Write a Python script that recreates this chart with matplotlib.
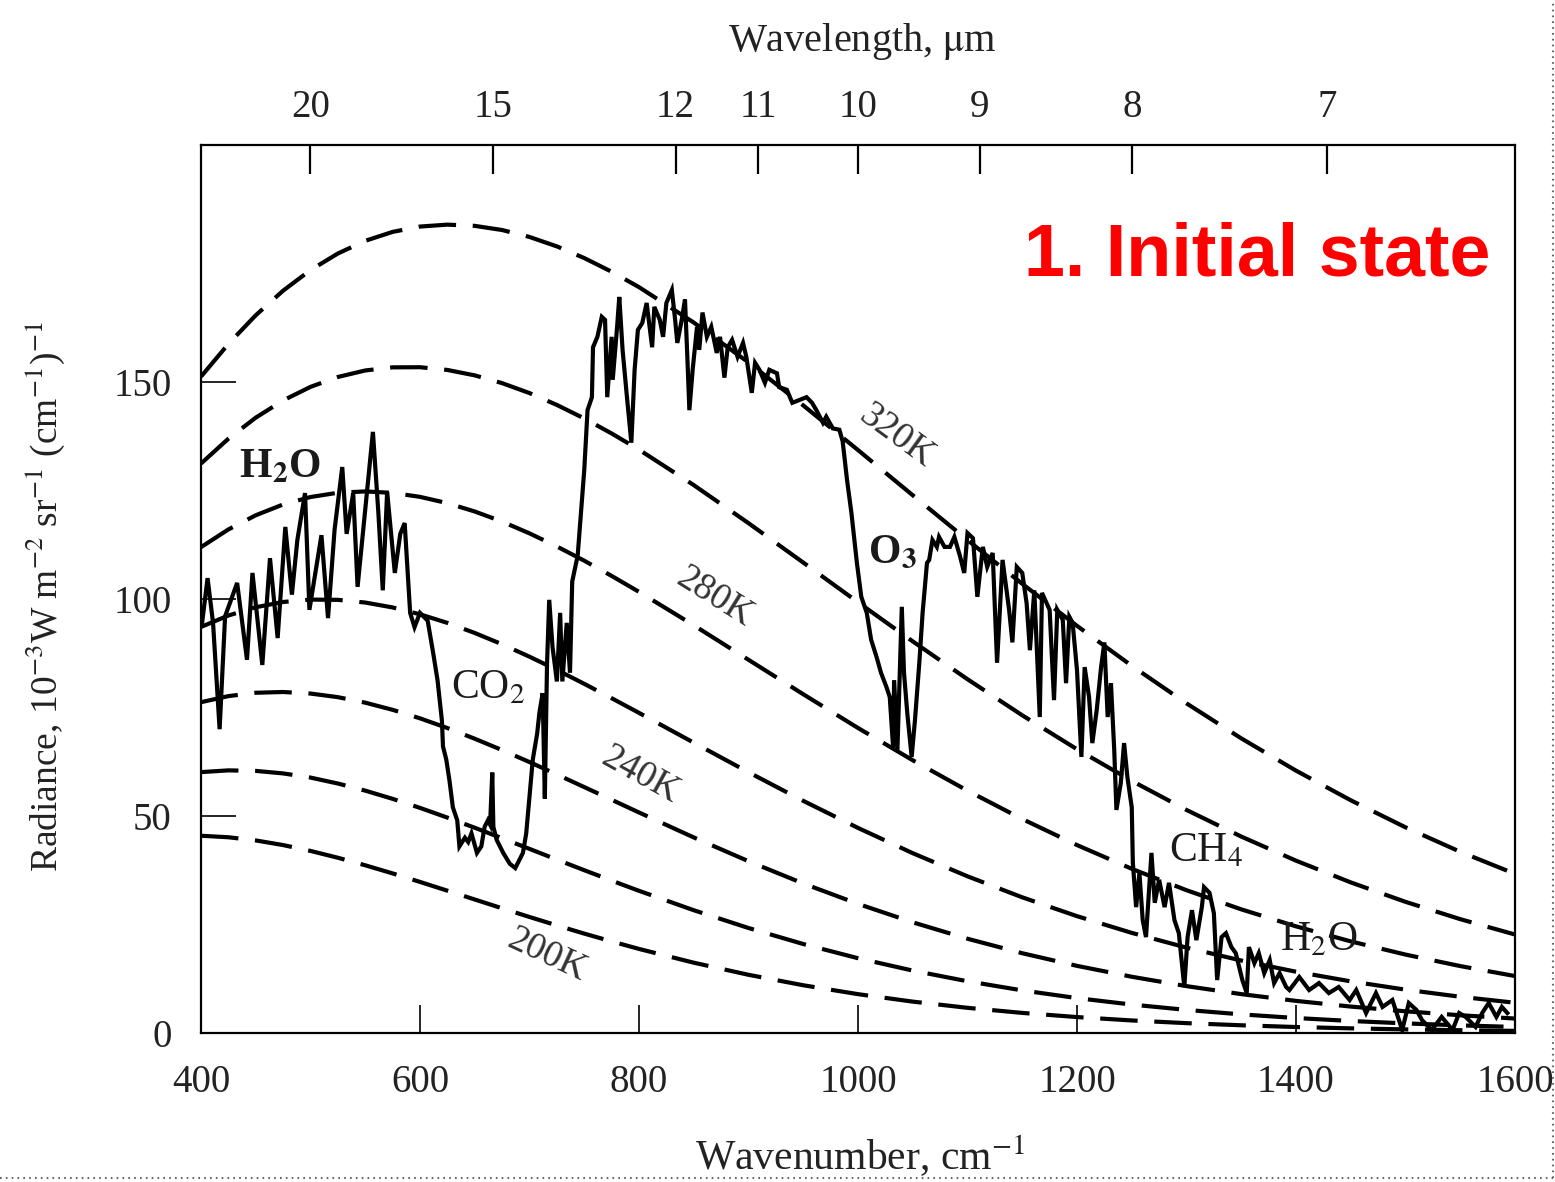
import matplotlib
matplotlib.use('Agg')
import matplotlib.pyplot as plt
from matplotlib.lines import Line2D

plt.rcParams['font.family'] = ['Liberation Serif', 'DejaVu Serif']
plt.rcParams['mathtext.fontset'] = 'stix'
plt.rcParams['lines.scale_dashes'] = False

# ---------------- data ----------------
wavenumber_grid = [400, 425, 450, 475, 500, 525, 550, 575, 600, 625, 650, 675, 700, 725,
                   750, 775, 800, 850, 900, 950, 1000, 1050, 1100, 1150, 1200, 1250,
                   1300, 1350, 1400, 1450, 1500, 1550, 1600]

bb_320 = [151.23, 158.76, 165.37, 171.04, 175.78, 179.60, 182.52, 184.58, 185.81, 186.25,
          185.97, 185.01, 183.41, 181.24, 178.55, 175.40, 171.85, 163.69, 154.50, 144.60,
          134.31, 123.90, 113.57, 103.49, 93.81, 84.60, 75.95, 67.89, 60.45, 53.62,
          47.39, 41.75, 36.67]
bb_300 = [131.20, 136.93, 141.78, 145.75, 148.87, 151.15, 152.65, 153.37, 153.40, 152.77,
          151.52, 149.73, 147.44, 144.71, 141.59, 138.14, 134.40, 126.24, 117.47, 108.39,
          99.24, 90.23, 81.51, 73.20, 65.38, 58.10, 51.39, 45.26, 39.71, 34.70,
          30.22, 26.23, 22.69]
bb_280 = [111.94, 116.02, 119.29, 121.78, 123.49, 124.48, 124.78, 124.45, 123.53, 122.08,
          120.16, 117.83, 115.12, 112.10, 108.82, 105.32, 101.64, 93.94, 85.99, 78.05,
          70.28, 62.84, 55.83, 49.30, 43.30, 37.83, 32.90, 28.49, 24.57, 21.11,
          18.07, 15.42, 13.12]
bb_260 = [93.56, 96.19, 98.10, 99.31, 99.86, 99.80, 99.18, 98.05, 96.47, 94.49,
          92.17, 89.56, 86.70, 83.66, 80.45, 77.14, 73.76, 66.89, 60.08, 53.49,
          47.25, 41.43, 36.10, 31.26, 26.92, 23.07, 19.67, 16.70, 14.12, 11.90,
          9.99, 8.35, 6.97]
bb_240 = [76.22, 77.62, 78.39, 78.57, 78.21, 77.38, 76.11, 74.46, 72.50, 70.26,
          67.80, 65.18, 62.42, 59.57, 56.66, 53.74, 50.81, 45.06, 39.58, 34.45,
          29.75, 25.50, 21.72, 18.38, 15.47, 12.96, 10.80, 8.96, 7.40, 6.09,
          5.00, 4.09, 3.33]
bb_220 = [60.11, 60.51, 60.39, 59.81, 58.85, 57.48, 55.84, 53.95, 51.87, 49.63,
          47.29, 44.87, 42.42, 39.95, 37.51, 35.11, 32.76, 28.29, 24.19, 20.50,
          17.23, 14.38, 11.92, 9.82, 8.04, 6.55, 5.32, 4.29, 3.45, 2.77,
          2.21, 1.76, 1.39]
bb_200 = [45.45, 45.10, 44.37, 43.30, 41.95, 40.38, 38.64, 36.77, 34.81, 32.79,
          30.76, 28.73, 26.73, 24.79, 22.90, 21.10, 19.37, 16.20, 13.41, 11.00,
          8.95, 7.23, 5.80, 4.63, 3.67, 2.89, 2.27, 1.78, 1.38, 1.07,
          0.83, 0.64, 0.49]

spec_nu = [401, 406, 411, 417, 422, 433, 442, 447, 456, 463,
           470, 477, 483, 488, 495, 499, 510, 516, 522, 529,
           533, 539, 543, 552, 557, 562, 566, 570, 577, 582,
           586, 589, 591, 595, 600, 607, 612, 616, 620, 621,
           624, 627, 630, 634, 636, 641, 644, 647, 652, 656,
           659, 662, 664, 666, 667, 670, 676, 682, 687, 694,
           697, 700, 703, 707, 709, 712, 714, 716, 718, 721,
           725, 728, 730, 734, 737, 739, 744, 750, 753, 757,
           758, 762, 766, 769, 771, 775, 776, 780, 782, 785,
           789, 793, 796, 799, 803, 807, 812, 814, 819, 822,
           825, 830, 833, 835, 839, 842, 844, 846, 849, 853,
           855, 858, 862, 866, 871, 874, 878, 881, 885, 890,
           895, 898, 903, 906, 910, 915, 919, 926, 928, 935,
           940, 947, 953, 958, 962, 968, 971, 977, 983, 986,
           990, 994, 999, 1003, 1008, 1012, 1017, 1021, 1026, 1029,
           1032, 1033, 1036, 1040, 1042, 1045, 1049, 1052, 1056, 1059,
           1063, 1065, 1068, 1072, 1074, 1079, 1084, 1088, 1093, 1097,
           1100, 1105, 1109, 1114, 1118, 1123, 1127, 1132, 1138, 1141,
           1145, 1150, 1154, 1157, 1161, 1166, 1168, 1175, 1179, 1182,
           1187, 1190, 1193, 1196, 1200, 1204, 1207, 1211, 1214, 1218,
           1222, 1225, 1228, 1231, 1234, 1236, 1240, 1243, 1246, 1250,
           1251, 1254, 1257, 1260, 1263, 1268, 1271, 1275, 1280, 1284,
           1289, 1293, 1298, 1301, 1305, 1309, 1314, 1316, 1321, 1325,
           1328, 1332, 1336, 1341, 1345, 1351, 1355, 1357, 1362, 1366,
           1371, 1376, 1380, 1385, 1391, 1394, 1403, 1412, 1421, 1430,
           1439, 1449, 1455, 1464, 1473, 1479, 1488, 1497, 1503, 1510,
           1515, 1524, 1533, 1543, 1549, 1555, 1564, 1570, 1576, 1583,
           1588, 1593]
spec_rad = [94.5, 104.8, 94.5, 70, 96, 103.7, 86, 106, 84.8, 109.4,
            91, 116.6, 101, 113.6, 124.4, 97.5, 114.7, 95.6, 116, 130.4,
            115, 124.4, 102.8, 125.8, 138.5, 119.8, 102, 124.7, 106, 115,
            117.5, 105, 96.8, 93.5, 96.8, 95, 87.6, 81.3, 72, 66,
            63, 58, 52, 49, 43, 45, 44, 46, 41.5, 43,
            47.5, 49, 48, 60, 47.5, 44.5, 41.5, 39, 38, 41.5,
            46, 54.4, 63, 69, 73.7, 78.3, 54, 85, 99.8, 89,
            81, 96.8, 81, 94.5, 83, 104, 110, 129.7, 143.5, 146.5,
            158, 160.4, 165, 164.3, 146.5, 160.4, 150.5, 162.7, 169.6, 157.4,
            146.5, 136, 152.8, 162, 163.6, 168.2, 158, 167.3, 164.3, 160.4,
            168.2, 171.2, 164.3, 159, 164.3, 169, 156.7, 143.5, 152.8, 162.7,
            157.4, 166, 160.4, 162.7, 156.7, 160.4, 151, 158, 159.7, 155.8,
            159, 155.8, 147.5, 154.4, 152.8, 149.8, 152.8, 152, 148.8, 148.2,
            145.2, 145.9, 146.5, 145.2, 143.5, 140.6, 142, 139.3, 139, 136.3,
            127.4, 119.8, 108.3, 100.5, 96.8, 90.6, 86.6, 83, 79.7, 77.4,
            66, 81.3, 65.2, 98.2, 83, 73.7, 63.6, 72, 85.3, 96.8,
            108.3, 109, 113.6, 112, 114.3, 112, 112, 114.3, 110, 106,
            115.2, 114, 100.5, 112, 107.4, 110.6, 85.3, 109, 97.5, 90,
            107.4, 106, 99, 88.2, 102, 72.8, 101.4, 97.5, 76.7, 97.5,
            95.2, 80.6, 95.9, 94.5, 83.6, 63.6, 84.3, 77.4, 66.8, 74.4,
            84.3, 90, 72.8, 80.6, 65.2, 51.4, 57.6, 66.8, 59, 52,
            39.2, 29, 36.9, 26, 22.1, 41.5, 30, 35.3, 29, 34.6,
            26, 23, 10.6, 22.1, 28.3, 21.4, 29, 33.6, 32.3, 27.6,
            12.2, 22.1, 23, 19.8, 18.4, 12.2, 9.2, 19.8, 16.1, 18.4,
            13.8, 16.8, 11.5, 13.8, 10.6, 9.9, 12.9, 9.9, 11.5, 9.2,
            10.6, 7.6, 9.9, 4.6, 9.2, 6, 7.6, 0.7, 6.9, 5.3,
            3, 0.7, 3.7, 0.7, 4.6, 3.7, 1.4, 4.6, 6.9, 3.7,
            6, 4.6]

x_ticks = [400, 600, 800, 1000, 1200, 1400, 1600]
y_ticks = [0, 50, 100, 150]
wavelength_ticks = [20, 15, 12, 11, 10, 9, 8, 7]

temp_labels = ['320K', '280K', '240K', '200K']
temp_label_nu = [1035, 869, 801, 716]
temp_label_rad = [137.5, 100.5, 59.5, 18.0]
temp_label_rot = [-36, -32, -29, -25]

gas_labels = [r'H$_\mathbf{2}$O', r'CO$_2$', r'O$_\mathbf{3}$', r'CH$_4$', r'H$_2$O']
gas_nu = [472, 662, 1031, 1318, 1421]
gas_rad = [130.4, 79.5, 110.6, 41.9, 21.4]
gas_bold = [True, False, True, False, False]

# ---------------- figure ----------------
W, H = 1555, 1182
fig = plt.figure(figsize=(W / 100, H / 100), dpi=100)
fig.patch.set_facecolor('white')
ax = fig.add_axes([201 / W, 1 - 1033 / H, (1515 - 201) / W, (1033 - 145) / H])
ax.set_xlim(400, 1600)
ax.set_ylim(0, 204.6)

txt_col = '#222222'

for curve in [bb_320, bb_300, bb_280, bb_260, bb_240, bb_220, bb_200]:
    ax.plot(wavenumber_grid, curve, color='black', lw=3.0, dashes=(27, 12),
            solid_capstyle='butt', dash_capstyle='butt', zorder=2)

ax.plot(spec_nu, spec_rad, color='black', lw=3.0, solid_joinstyle='miter', zorder=3)

for s, x, y, r in zip(temp_labels, temp_label_nu, temp_label_rad, temp_label_rot):
    ax.text(x, y, s, rotation=r, rotation_mode='anchor', ha='center', va='center',
            fontsize=27, color='#333333', zorder=4)

for s, x, y, b in zip(gas_labels, gas_nu, gas_rad, gas_bold):
    ax.text(x, y, s, ha='center', va='center', fontsize=30,
            fontweight='bold' if b else 'normal', color='#1a1a1a', zorder=4)

for sp in ax.spines.values():
    sp.set_linewidth(1.6)
    sp.set_color('black')

ax.set_xticks(x_ticks)
ax.set_xticklabels([str(v) for v in x_ticks])
ax.set_yticks(y_ticks)
ax.set_yticklabels([str(v) for v in y_ticks])
ax.tick_params(axis='x', direction='in', length=20, width=1.2, labelsize=28,
               pad=22, labelcolor=txt_col, top=False)
ax.tick_params(axis='y', direction='in', length=25, width=1.2, labelsize=28,
               pad=21, labelcolor=txt_col, right=False)

ax2 = ax.twiny()
ax2.set_xlim(400, 1600)
ax2.set_xticks([10000.0 / w for w in wavelength_ticks])
ax2.set_xticklabels([str(w) for w in wavelength_ticks])
ax2.tick_params(axis='x', direction='in', length=21, width=1.6, labelsize=28,
                pad=14, labelcolor=txt_col)
for sp in ax2.spines.values():
    sp.set_visible(False)

fig.text(862 / W, 1 - 42 / H, r'Wavelength, $\mathrm{\mu}$m', ha='center', va='center',
         fontsize=29, color=txt_col)
fig.text(860 / W, 1 - 1156 / H, r'Wavenumber, cm$^{-1}$', ha='center', va='center',
         fontsize=30, color=txt_col)
fig.text(45 / W, 1 - 597 / H,
         r'Radiance, 10$^{-3}$W m$^{-2}$ sr$^{-1}$ (cm$^{-1}$)$^{-1}$',
         rotation=90, ha='center', va='center', fontsize=27, color=txt_col)

fig.text(1490 / W, 1 - 276 / H, '1. Initial state', ha='right', va='baseline',
         fontsize=53, fontweight='bold', color='#ff0000',
         family=['Liberation Sans', 'DejaVu Sans'])

fig.add_artist(Line2D([1553 / W, 1553 / W], [1 - 1178 / H, 1.0], transform=fig.transFigure,
                      color='#666666', lw=1.5, dashes=(1.2, 3)))
fig.add_artist(Line2D([0.0, 1553 / W], [1 - 1178 / H, 1 - 1178 / H], transform=fig.transFigure,
                      color='#666666', lw=1.5, dashes=(1.2, 3)))

fig.savefig('out.png', dpi=100, facecolor='white')
